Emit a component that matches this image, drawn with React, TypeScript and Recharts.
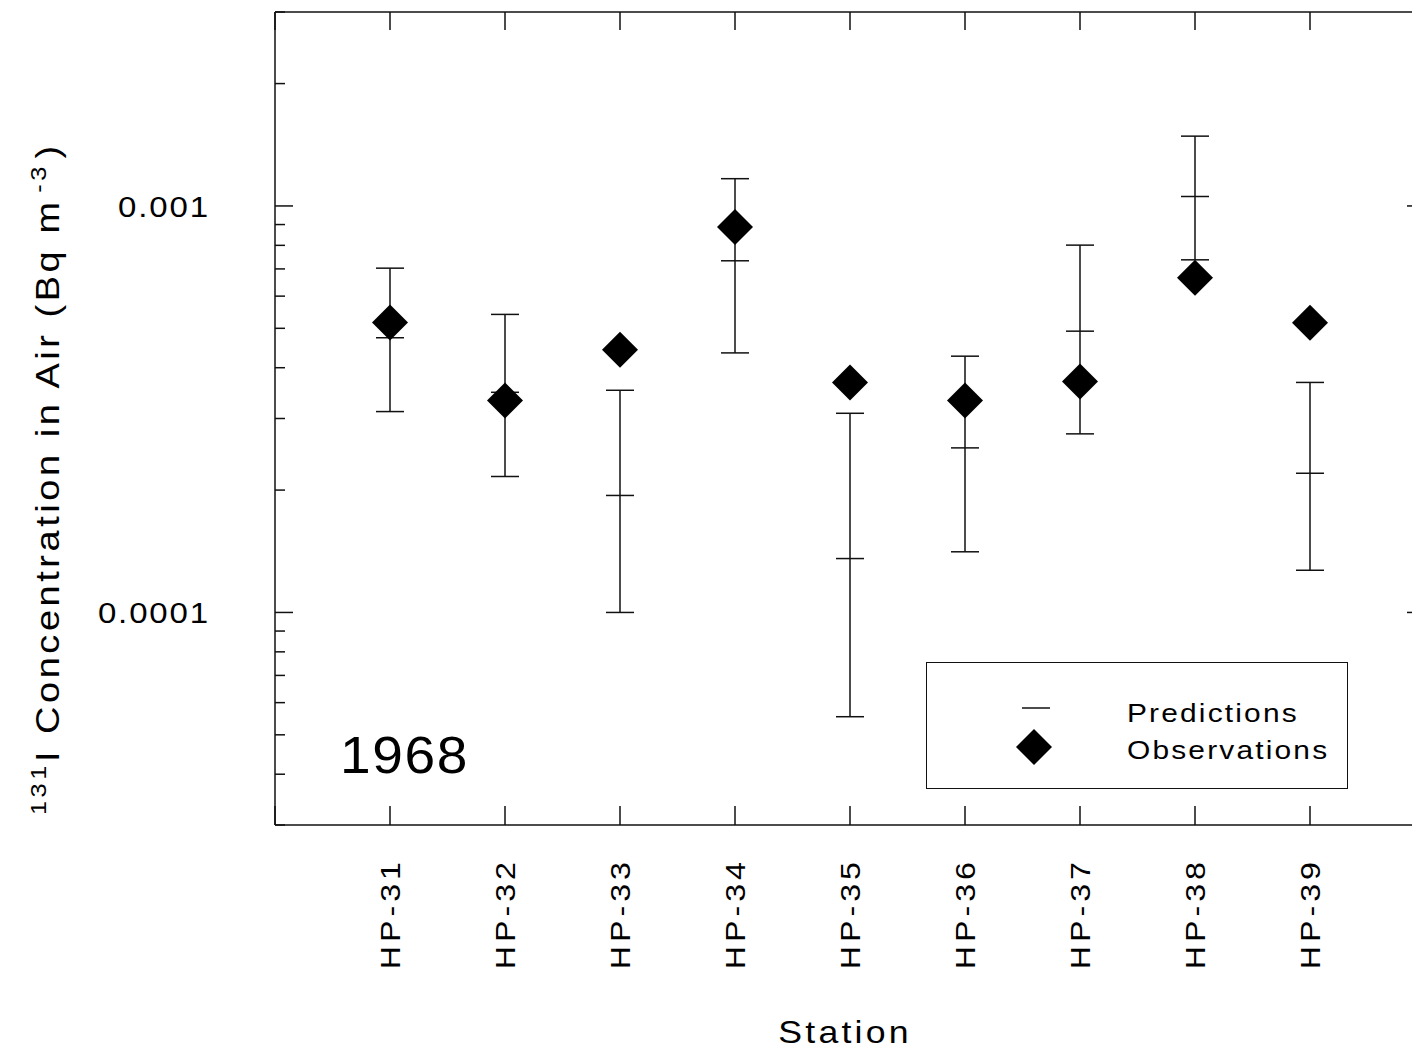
import { ComposedChart, ErrorBar, Legend, Scatter, XAxis, YAxis } from 'recharts';

// stations along the x axis (plotted at positions 1..9)
const stations = ['HP-31', 'HP-32', 'HP-33', 'HP-34', 'HP-35', 'HP-36', 'HP-37', 'HP-38', 'HP-39'];

// measured 131I air concentrations, Bq m-3
const observed = [0.000517, 0.000332, 0.000443, 0.000887, 0.000368, 0.000332, 0.00037, 0.000666, 0.000516];

// model predictions: central value with lower / upper bounds
const predicted = [0.000474, 0.000348, 0.000194, 0.000733, 0.0001357, 0.000254, 0.000492, 0.001055, 0.00022];
const predictedLow = [0.000312, 0.000216, 0.0001, 0.000435, 0.0000554, 0.000141, 0.000275, 0.000737, 0.000127];
const predictedHigh = [0.000703, 0.000541, 0.000352, 0.001167, 0.000309, 0.000427, 0.000801, 0.001485, 0.000368];

const yTicks = [
  0.00003, 0.00004, 0.00005, 0.00006, 0.00007, 0.00008, 0.00009,
  0.0001, 0.0002, 0.0003, 0.0004, 0.0005, 0.0006, 0.0007, 0.0008, 0.0009,
  0.001, 0.002, 0.003,
];
const xTicks = [0, 1, 2, 3, 4, 5, 6, 7, 8, 9, 10];
const yearLabel = '1968';

const INK = '#111';
const FONT = "'Liberation Sans', Arial, Helvetica, sans-serif";
// lettering is a little widened and loosely spaced
const WIDE = 'scale(1.15,1)';

const predRows = stations.map((_, i) => ({
  pos: i + 1,
  value: predicted[i],
  err: [predicted[i] - predictedLow[i], predictedHigh[i] - predicted[i]],
}));
const obsRows = stations.map((_, i) => ({ pos: i + 1, value: observed[i] }));

const isDecade = (v: number) => Math.abs(Math.log10(v) - Math.round(Math.log10(v))) < 1e-6;
const fmtDecade = (v: number) => v.toFixed(Math.round(-Math.log10(v)));

function LeftTick({ x, y, payload }: any) {
  const major = isDecade(payload.value);
  return (
    <g>
      <line x1={x} y1={y} x2={x + (major ? 18 : 10)} y2={y} stroke={INK} strokeWidth={1.5} />
      {major && (
        <text
          transform={`translate(${x - 65},${y + 11}) scale(1.1,1)`}
          textAnchor="end"
          fontSize={30}
          letterSpacing={1.7}
          fontFamily={FONT}
          fill="#000"
        >
          {fmtDecade(payload.value)}
        </text>
      )}
    </g>
  );
}

function RightTick({ x, y, payload }: any) {
  const major = isDecade(payload.value);
  return <line x1={x} y1={y} x2={x - (major ? 18 : 10)} y2={y} stroke={INK} strokeWidth={1.5} />;
}

function BottomTick({ x, y, payload }: any) {
  const name = stations[payload.value - 1];
  return (
    <g>
      <line x1={x} y1={y} x2={x} y2={y - 19} stroke={INK} strokeWidth={1.5} />
      {name && (
        <text
          transform={`translate(${x + 10},${y + 33}) rotate(-90) ${WIDE}`}
          textAnchor="end"
          fontSize={28}
          letterSpacing={3.5}
          fontFamily={FONT}
          fill="#000"
        >
          {name}
        </text>
      )}
    </g>
  );
}

function TopTick({ x, y }: any) {
  return <line x1={x} y1={y} x2={x} y2={y + 18} stroke={INK} strokeWidth={1.5} />;
}

function PredMark({ cx, cy }: any) {
  return <line x1={cx - 14} y1={cy} x2={cx + 14} y2={cy} stroke={INK} strokeWidth={1.5} />;
}

function Diamond({ cx, cy }: any) {
  const r = 18;
  return <polygon points={`${cx},${cy - r} ${cx + r},${cy} ${cx},${cy + r} ${cx - r},${cy}`} fill="#000" />;
}

function StationTitle({ viewBox }: any) {
  const { x, y, width } = viewBox;
  return (
    <text
      transform={`translate(${x + width / 2 - 5},${y + 218}) ${WIDE}`}
      textAnchor="middle"
      fontSize={31}
      letterSpacing={2.8}
      fontFamily={FONT}
      fill="#000"
    >
      Station
    </text>
  );
}

function ConcentrationTitle({ viewBox }: any) {
  const { y, height } = viewBox;
  return (
    <text
      transform={`translate(51,${y + height - 10}) rotate(-90) ${WIDE}`}
      textAnchor="start"
      fontSize={33}
      letterSpacing={3.1}
      fontFamily={FONT}
      fill="#000"
    >
      <tspan fontSize={22} dy={-13}>131</tspan>
      <tspan dy={13}>I Concentration in Air (Bq m</tspan>
      <tspan fontSize={22} dy={-13} dx={5}>-3</tspan>
      <tspan dy={13} dx={4}>)</tspan>
    </text>
  );
}

function LegendBox() {
  return (
    <div style={{ width: 422, height: 127, border: `1.5px solid ${INK}`, boxSizing: 'border-box', background: '#fff' }}>
      <svg width={419} height={124} style={{ display: 'block' }}>
        <line x1={95} y1={45} x2={123} y2={45} stroke={INK} strokeWidth={1.5} />
        <text transform={`translate(200,59) ${WIDE}`} fontSize={26} letterSpacing={1.9} fontFamily={FONT} fill="#000">
          Predictions
        </text>
        <Diamond cx={107} cy={84} />
        <text transform={`translate(200,96) ${WIDE}`} fontSize={26} letterSpacing={1.9} fontFamily={FONT} fill="#000">
          Observations
        </text>
      </svg>
    </div>
  );
}

export default function App() {
  return (
    <div style={{ position: 'absolute', left: 8, top: 8, width: 1404, height: 1041, overflow: 'hidden', background: '#fff' }}>
      <ComposedChart width={1427} height={1041} margin={{ top: 0, right: 0, bottom: 0, left: 0 }}>
        <XAxis
          xAxisId="bottom"
          dataKey="pos"
          type="number"
          domain={[0, 10]}
          ticks={xTicks}
          interval={0}
          allowDataOverflow
          height={224}
          tickLine={false}
          tickSize={0}
          tickMargin={0}
          axisLine={{ stroke: INK, strokeWidth: 1.5 }}
          tick={<BottomTick />}
          label={StationTitle}
        />
        <XAxis
          xAxisId="top"
          orientation="top"
          dataKey="pos"
          type="number"
          domain={[0, 10]}
          ticks={xTicks}
          interval={0}
          allowDataOverflow
          height={4}
          tickLine={false}
          tickSize={0}
          tickMargin={0}
          axisLine={{ stroke: INK, strokeWidth: 1.5 }}
          tick={<TopTick />}
        />
        <YAxis
          yAxisId="left"
          dataKey="value"
          scale="log"
          type="number"
          domain={[0.00003, 0.003]}
          ticks={yTicks}
          interval={0}
          allowDataOverflow
          width={267}
          tickLine={false}
          tickSize={0}
          tickMargin={0}
          axisLine={{ stroke: INK, strokeWidth: 1.5 }}
          tick={<LeftTick />}
          label={ConcentrationTitle}
        />
        <YAxis
          yAxisId="right"
          orientation="right"
          dataKey="value"
          scale="log"
          type="number"
          domain={[0.00003, 0.003]}
          ticks={yTicks}
          interval={0}
          allowDataOverflow
          width={10}
          tickLine={false}
          tickSize={0}
          tickMargin={0}
          axisLine={{ stroke: INK, strokeWidth: 1.5 }}
          tick={<RightTick />}
        />
        <Legend
          layout="horizontal"
          verticalAlign="middle"
          align="center"
          content={<LegendBox />}
          wrapperStyle={{ left: 918, top: 654, width: 422, height: 127 }}
        />
        <Scatter
          name="Predictions"
          data={predRows}
          xAxisId="bottom"
          yAxisId="left"
          shape={PredMark}
          isAnimationActive={false}
        >
          <ErrorBar dataKey="err" direction="y" width={14} stroke={INK} strokeWidth={1.5} />
        </Scatter>
        <Scatter
          name="Observations"
          data={obsRows}
          xAxisId="bottom"
          yAxisId="left"
          shape={Diamond}
          isAnimationActive={false}
        />
      </ComposedChart>
      <svg width={1404} height={1041} style={{ position: 'absolute', left: 0, top: 0, pointerEvents: 'none' }}>
        <text transform="translate(332,765) scale(1.06,1)" fontSize={52} letterSpacing={1.5} fontFamily={FONT} fill="#000">
          {yearLabel}
        </text>
      </svg>
    </div>
  );
}
